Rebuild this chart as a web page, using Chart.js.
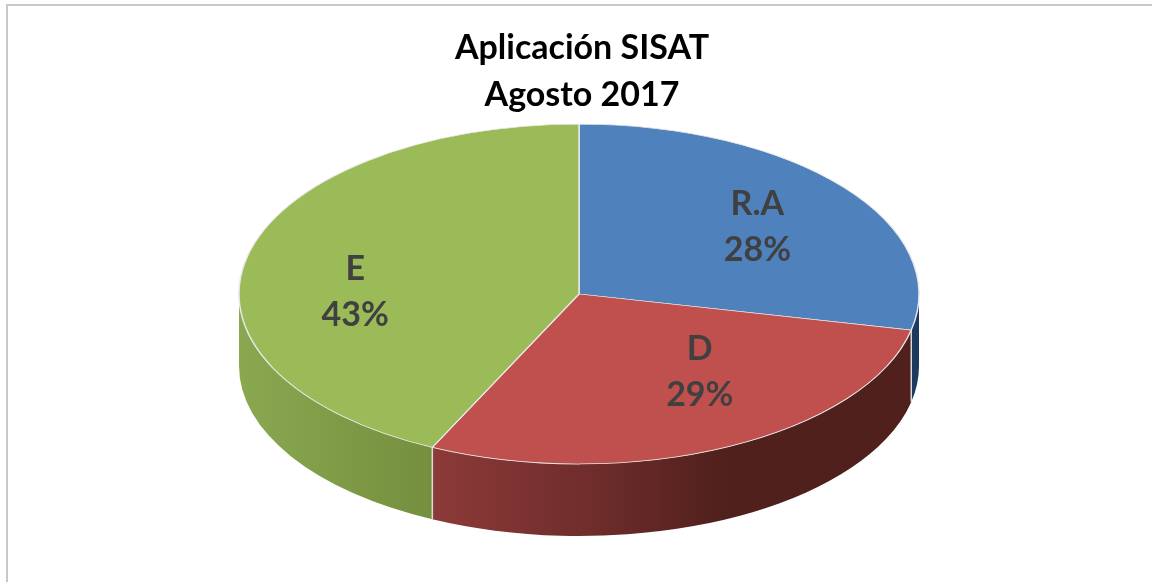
<!DOCTYPE html>
<html>
<head>
<meta charset="utf-8">
<style>
  html, body { margin: 0; padding: 0; background: #fff; }
  #lienzo { position: absolute; left: 0; top: 0; width: 1152px; height: 582px; }
</style>
<script src="https://cdn.jsdelivr.net/npm/chart.js@4/dist/chart.umd.js"></script>
</head>
<body>
<div id="lienzo"><canvas id="pieChart"></canvas></div>
<script>
// Datos
const categorias = ['R.A', 'D', 'E'];
const valores = [28.4, 28.7, 42.9];
const tituloLineas = ['Aplicación SISAT', 'Agosto 2017'];

// Paleta de colores
const coloresTapa = ['#4f81bd', '#c0504d', '#9bbb59'];
const coloresLado = [
  [[0, '#1b3a5e'], [1, '#1b3a5e']],
  [[0, '#8c3a38'], [0.35, '#6d2c2a'], [0.62, '#4f201c'], [1, '#4f201c']],
  [[0, '#8aa850'], [1, '#748f3e']]
];

// Geometria de la elipse
const centroX = 579, centroY = 294, radio = 340, aplastado = 0.5, grosor = 72;
// ajuste de cada etiqueta respecto del centro de su porcion
const ajusteEtiqueta = [[46, -14], [46, 2], [-58, 17]];

const pie3d = {
  id: 'pie3d',
  // paredes laterales antes de la tapa
  beforeDatasetsDraw(chart) {
    const ctx = chart.ctx;
    const arcos = chart.getDatasetMeta(0).data;
    const ry = radio * aplastado;
    arcos.forEach((arco, i) => {
      const ini = Math.max(arco.startAngle, 0);
      const fin = Math.min(arco.endAngle, Math.PI);
      if (fin <= ini) return;
      const x0 = centroX + radio * Math.cos(fin);
      const x1 = centroX + radio * Math.cos(ini);
      const grad = ctx.createLinearGradient(x0, 0, x1, 0);
      coloresLado[i].forEach(p => grad.addColorStop(p[0], p[1]));
      ctx.save();
      ctx.beginPath();
      ctx.ellipse(centroX, centroY, radio, ry, 0, ini, fin);
      ctx.ellipse(centroX, centroY + grosor, radio, ry, 0, fin, ini, true);
      ctx.closePath();
      ctx.fillStyle = grad;
      ctx.fill();
      // canto claro entre porciones
      ctx.strokeStyle = '#d9d9d9';
      ctx.lineWidth = 1.5;
      [arco.startAngle, arco.endAngle].forEach(a => {
        if (a <= 0 || a >= Math.PI) return;
        const x = centroX + radio * Math.cos(a);
        const y = centroY + ry * Math.sin(a);
        ctx.beginPath();
        ctx.moveTo(x, y);
        ctx.lineTo(x, y + grosor);
        ctx.stroke();
      });
      ctx.restore();
    });
    // la tapa se aplasta para verla en perspectiva
    const a0 = arcos[0];
    ctx.save();
    ctx.translate(centroX, centroY);
    ctx.scale(1, aplastado);
    ctx.translate(-a0.x, -a0.y);
  },
  afterDatasetsDraw(chart) {
    const ctx = chart.ctx;
    ctx.restore();
    const arcos = chart.getDatasetMeta(0).data;
    ctx.save();
    ctx.font = '700 34px Lato';
    ctx.fillStyle = '#404040';
    ctx.textAlign = 'center';
    ctx.textBaseline = 'middle';
    arcos.forEach((arco, i) => {
      const c = arco.getCenterPoint();
      const x = centroX + (c.x - arco.x) + ajusteEtiqueta[i][0];
      const y = centroY + (c.y - arco.y) * aplastado + ajusteEtiqueta[i][1];
      ctx.fillText(categorias[i], x, y - 23);
      ctx.fillText(Math.round(valores[i]) + '%', x, y + 23);
    });
    ctx.restore();
  },
  // marco gris: solo arriba e izquierda
  beforeDraw(chart) {
    const ctx = chart.ctx;
    ctx.save();
    ctx.strokeStyle = '#c8c8c8';
    ctx.lineWidth = 2;
    ctx.beginPath();
    ctx.moveTo(7, 582);
    ctx.lineTo(7, 5);
    ctx.lineTo(1152, 5);
    ctx.stroke();
    ctx.restore();
  }
};

new Chart(document.getElementById('pieChart').getContext('2d'), {
  type: 'pie',
  data: {
    labels: categorias,
    datasets: [{
      data: valores,
      backgroundColor: coloresTapa,
      borderColor: '#e8e8e8',
      borderWidth: 1.5,
      borderJoinStyle: 'round',
      radius: radio
    }]
  },
  options: {
    responsive: true,
    maintainAspectRatio: false,
    animation: false,
    layout: { padding: { top: 0, left: 12 } },
    plugins: {
      legend: { display: false },
      tooltip: { enabled: false },
      title: {
        display: true,
        text: tituloLineas,
        color: '#000000',
        font: { family: 'Lato', weight: '700', size: 34, lineHeight: 1.38 },
        padding: { top: 25, bottom: 0 }
      }
    }
  },
  plugins: [pie3d]
});
</script>
</body>
</html>
